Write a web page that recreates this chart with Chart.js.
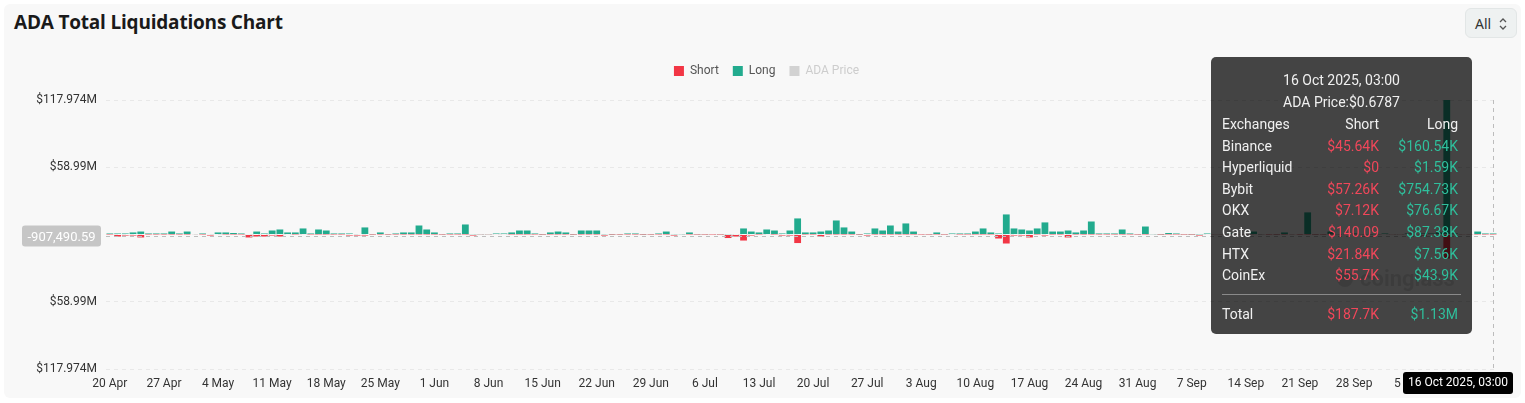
<!DOCTYPE html>
<html>
<head>
<meta charset="utf-8">
<script src="https://cdn.jsdelivr.net/npm/chart.js@4.4.1/dist/chart.umd.min.js"></script>
<style>
    html, body { margin: 0; padding: 0; background: #ffffff; }
    #wrap { position: relative; width: 1525px; height: 403px; overflow: hidden; }
    #card { position: absolute; left: 4px; top: 4px; width: 1517px; height: 394px; background: #f8f8f8; border-radius: 6px; }
    #title { position: absolute; left: 14px; top: 9px; font: 700 19px "Open Sans", sans-serif; color: #1a1a1a; letter-spacing: -0.2px; }
    #rangeBtn { position: absolute; left: 1465px; top: 8px; width: 52px; height: 30px; box-sizing: border-box; background: #eef1f1; border: 1px solid #e2e6e6; border-radius: 6px; font: 14px "Noto Sans", sans-serif; color: #333; }
    #rangeBtn span { position: absolute; left: 9px; top: 5px; }
    #rangeBtn svg { position: absolute; left: 32px; top: 8px; }
    #chartCanvas { position: absolute; left: 0; top: 0; }
</style>
</head>
<body>
<div id="wrap">
    <div id="card"></div>
    <div id="title">ADA Total Liquidations Chart</div>
    <div id="rangeBtn"><span>All</span>
        <svg width="10" height="14" viewBox="0 0 10 14"><path d="M2 5 L5 2 L8 5" fill="none" stroke="#555" stroke-width="1.3"/><path d="M2 9 L5 12 L8 9" fill="none" stroke="#555" stroke-width="1.3"/></svg>
    </div>
    <canvas id="chartCanvas" width="1525" height="403"></canvas>
</div>
<script>
// daily liquidations, in millions of USD, 20 Apr 2025 .. 16 Oct 2025
const startDay = new Date(2025, 3, 20);
const monthNames = ["Jan", "Feb", "Mar", "Apr", "May", "Jun", "Jul", "Aug", "Sep", "Oct", "Nov", "Dec"];

const longValues = [
    0.9, 0.9, 0.9, 1.8, 2.6, 0.9, 0.9, 0.9, 2.6, 0.9,
    2.6, 0.4, 0.9, 0.4, 1.8, 1.8, 1.3, 0.9, 0.4, 2.6,
    0.9, 3.5, 4.4, 1.8, 1.8, 5.3, 0.9, 4.4, 3.5, 0.9,
    0.9, 0.9, 0.4, 6.2, 0.3, 1.8, 0.3, 0.9, 1.8, 1.8,
    7.9, 4.4, 1.8, 0.3, 0.9, 0.9, 8.8, 0.3, 0.3, 0.3,
    0.9, 0.9, 1.8, 3.5, 3.5, 0.9, 0.2, 1.8, 2.6, 1.8,
    0.2, 3.5, 3.5, 3.5, 0.3, 0.2, 0.3, 0.9, 0.9, 0.2,
    0.3, 0.9, 2.6, 0.3, 0.3, 1.8, 0.3, 0.3, 0.4, 0.3,
    0.3, 0.4, 5.3, 2.6, 1.8, 4.4, 3.5, 0.9, 3.5, 14.1,
    1.8, 1.8, 2.6, 3.5, 12.3, 6.2, 2.6, 0.2, 0.9, 5.3,
    3.5, 7.9, 2.6, 9.7, 2.6, 0.4, 0.3, 1.8, 0.3, 0.9,
    0.9, 0.9, 2.6, 5.3, 1.8, 0.9, 17.6, 5.3, 4.4, 3.5,
    5.3, 10.6, 2.6, 2.6, 3.5, 1.8, 3.5, 11.4, 0.9, 0.9,
    0.9, 4.4, 0.9, 0.3, 7.0, 0.3, 0.2, 1.3, 0.9, 0.3,
    0.2, 0.2, 0.9, 0.4, 0.4, 0.9, 0.4, 0.4, 2.6, 0.3,
    0.4, 0.3, 1.8, 0.4, 0.4, 19.4, 0.3, 0.4, 2.6, 0.4,
    0.4, 0.9, 0.4, 0.3, 0.4, 0.9, 0.4, 0.4, 0.9, 0.4,
    0.9, 0.9, 1.8, 117.974, 0.9, 0.4, 0.4, 2.6, 0.9, 0.9
];

const shortValues = [
    0.1, 1.8, 0.9, 0.9, 2.6, 0.1, 0.1, 0.1, 0.1, 0.1,
    0.1, 0.4, 0.1, 0.9, 0.4, 0.1, 0.1, 0.1, 2.6, 1.8,
    1.8, 0.9, 1.8, 0.4, 0.1, 0.4, 0.1, 0.1, 0.1, 0.1,
    0.1, 0.9, 0.9, 0.9, 0.1, 0.1, 0.1, 0.1, 0.1, 0.1,
    0.1, 0.1, 0.1, 0.1, 0.1, 0.1, 0.1, 0.9, 0.3, 0.3,
    0.4, 0.4, 0.1, 0.1, 0.1, 0.1, 0.1, 0.1, 0.1, 0.1,
    0.1, 0.1, 0.1, 0.1, 0.9, 0.1, 0.1, 0.1, 0.1, 0.1,
    0.1, 0.1, 0.1, 0.9, 0.4, 0.1, 0.1, 0.1, 0.1, 0.1,
    3.1, 1.8, 5.3, 0.9, 0.1, 0.4, 0.1, 0.9, 0.9, 7.5,
    0.1, 0.1, 1.8, 0.1, 0.1, 0.1, 0.1, 0.1, 0.9, 0.1,
    0.1, 0.1, 0.1, 0.1, 0.1, 0.1, 0.1, 0.1, 0.1, 0.4,
    0.1, 0.1, 0.1, 0.1, 0.1, 3.5, 7.9, 0.9, 0.9, 2.6,
    0.1, 0.9, 0.1, 0.1, 2.6, 0.1, 0.1, 0.1, 0.1, 0.1,
    0.1, 0.1, 0.1, 0.1, 0.1, 0.4, 0.1, 0.1, 0.1, 0.1,
    0.1, 0.9, 0.4, 0.3, 0.3, 0.3, 0.3, 0.3, 0.3, 0.3,
    0.1, 0.1, 0.1, 0.3, 0.1, 0.1, 0.1, 0.1, 0.1, 0.3,
    0.3, 0.3, 0.3, 0.3, 0.3, 0.4, 0.3, 0.3, 0.4, 0.4,
    0.9, 0.4, 0.4, 21.1, 0.4, 0.3, 0.3, 0.1, 0.1, 0.1
];

const yTickValues = [117.974, 58.987, 0, -58.987, -117.974];
const yTickLabels = ["$117.974M", "$58.99M", "$0", "$58.99M", "$117.974M"];

// hovered point shown in the reference
const hoverIndex = 179;
const hoverValue = -0.90749059;
const hoverYLabel = "-907,490.59";
const tipTitle = "16 Oct 2025, 03:00";
const tipPrice = "ADA Price:$0.6787";
const exchanges = ["Binance", "Hyperliquid", "Bybit", "OKX", "Gate", "HTX", "CoinEx"];
const exShort = ["$45.64K", "$0", "$57.26K", "$7.12K", "$140.09", "$21.84K", "$55.7K"];
const exLong = ["$160.54K", "$1.59K", "$754.73K", "$76.67K", "$87.38K", "$7.56K", "$43.9K"];
const totalShort = "$187.7K";
const totalLong = "$1.13M";

const RED = "#f23645";
const TEAL = "#22ab8e";

const dayLabels = longValues.map(function (_, i) {
    const d = new Date(startDay.getTime());
    d.setDate(d.getDate() + i);
    return d.getDate() + " " + monthNames[d.getMonth()];
});

function roundRect(ctx, x, y, w, h, r) {
    ctx.beginPath();
    ctx.moveTo(x + r, y);
    ctx.arcTo(x + w, y, x + w, y + h, r);
    ctx.arcTo(x + w, y + h, x, y + h, r);
    ctx.arcTo(x, y + h, x, y, r);
    ctx.arcTo(x, y, x + w, y, r);
    ctx.closePath();
}

const legendSpace = {
    id: "legendSpace",
    beforeInit(chart) {
        const fit = chart.legend.fit;
        chart.legend.fit = function () {
            fit.call(this);
            this.height += 13;
        };
    }
};

const hoverOverlay = {
    id: "hoverOverlay",
    afterDraw(chart) {
        const ctx = chart.ctx;
        const area = chart.chartArea;
        const cx = Math.round(chart.scales.x.getPixelForValue(hoverIndex)) + 0.5;
        const cy = Math.round(chart.scales.y.getPixelForValue(hoverValue)) + 0.5;

        ctx.save();
        // crosshair
        ctx.setLineDash([4, 4]);
        ctx.strokeStyle = "#bdbdbd";
        ctx.lineWidth = 1;
        ctx.beginPath();
        ctx.moveTo(area.left, cy);
        ctx.lineTo(area.right, cy);
        ctx.moveTo(cx, area.top);
        ctx.lineTo(cx, area.bottom);
        ctx.stroke();
        ctx.setLineDash([]);

        // watermark
        ctx.fillStyle = "rgba(0,0,0,0.12)";
        ctx.beginPath();
        ctx.arc(1345, 279, 8, 0, Math.PI * 2);
        ctx.fill();
        ctx.font = "700 22px Roboto";
        ctx.textBaseline = "middle";
        ctx.textAlign = "left";
        ctx.fillText("coinglass", 1360, 280);

        // tooltip
        const tx = 1211, ty = 57, tw = 261, th = 277;
        ctx.globalCompositeOperation = "multiply";
        ctx.fillStyle = "rgb(68,68,68)";
        roundRect(ctx, tx, ty, tw, th, 5);
        ctx.fill();
        ctx.globalCompositeOperation = "source-over";

        ctx.font = "14px Roboto";
        ctx.fillStyle = "#f0f0f0";
        ctx.textAlign = "center";
        ctx.fillText(tipTitle, tx + tw / 2, 81);
        ctx.fillText(tipPrice, tx + tw / 2, 103);

        const nameX = 1222, shortX = 1379, longX = 1458;
        const rows = [["Exchanges", "Short", "Long", true]];
        exchanges.forEach(function (name, i) {
            rows.push([name, exShort[i], exLong[i], false]);
        });
        const rowY = [125, 147, 168, 190, 211, 233, 255, 276];
        rows.forEach(function (r, i) {
            ctx.textAlign = "left";
            ctx.fillStyle = "#f0f0f0";
            ctx.fillText(r[0], nameX, rowY[i]);
            ctx.textAlign = "right";
            ctx.fillStyle = r[3] ? "#f0f0f0" : "#f0475a";
            ctx.fillText(r[1], shortX, rowY[i]);
            ctx.fillStyle = r[3] ? "#f0f0f0" : "#2fbf9c";
            ctx.fillText(r[2], longX, rowY[i]);
        });

        ctx.strokeStyle = "#8a8a8a";
        ctx.beginPath();
        ctx.moveTo(1222, 294.5);
        ctx.lineTo(1461, 294.5);
        ctx.stroke();

        ctx.textAlign = "left";
        ctx.fillStyle = "#f0f0f0";
        ctx.fillText("Total", nameX, 315);
        ctx.textAlign = "right";
        ctx.fillStyle = "#f0475a";
        ctx.fillText(totalShort, shortX, 315);
        ctx.fillStyle = "#2fbf9c";
        ctx.fillText(totalLong, longX, 315);

        // axis pointer labels
        ctx.font = "13px Roboto";
        ctx.textAlign = "center";
        ctx.fillStyle = "#c6c6c6";
        roundRect(ctx, 22, cy - 11, 79, 21, 3);
        ctx.fill();
        ctx.fillStyle = "#ffffff";
        ctx.fillText(hoverYLabel, 61.5, cy + 1);

        ctx.font = "12px Roboto";
        ctx.fillStyle = "#000000";
        roundRect(ctx, 1403, 372, 110, 22, 3);
        ctx.fill();
        ctx.fillStyle = "#ffffff";
        ctx.fillText(tipTitle, 1458, 383);
        ctx.restore();
    }
};

const ctx = document.getElementById("chartCanvas").getContext("2d");

new Chart(ctx, {
    type: "bar",
    data: {
        labels: dayLabels,
        datasets: [{
            label: "Short",
            data: shortValues.map(v => -v),
            backgroundColor: RED,
            barPercentage: 0.88,
            categoryPercentage: 1
        }, {
            label: "Long",
            data: longValues,
            backgroundColor: TEAL,
            barPercentage: 0.88,
            categoryPercentage: 1
        }, {
            type: "line",
            label: "ADA Price",
            data: [],
            hidden: true,
            backgroundColor: "#cccccc",
            borderColor: "#cccccc"
        }]
    },
    options: {
        responsive: false,
        animation: false,
        layout: {
            padding: { left: 36, right: 28, top: 51, bottom: 0 }
        },
        plugins: {
            legend: {
                display: true,
                position: "top",
                labels: {
                    boxWidth: 10,
                    boxHeight: 10,
                    padding: 14,
                    font: { family: "Roboto", size: 12 },
                    generateLabels: function (chart) {
                        return chart.data.datasets.map(function (d, i) {
                            const off = i === 2;
                            return {
                                text: d.label,
                                fillStyle: off ? "#d2d2d2" : d.backgroundColor,
                                strokeStyle: off ? "#d2d2d2" : d.backgroundColor,
                                lineWidth: 0,
                                hidden: false,
                                fontColor: off ? "#cdcdcd" : "#555555",
                                datasetIndex: i
                            };
                        });
                    }
                }
            },
            tooltip: { enabled: false }
        },
        scales: {
            x: {
                stacked: true,
                grid: { display: false },
                border: { display: false },
                afterFit: function (scale) { scale.height = 34; },
                ticks: {
                    autoSkip: false,
                    maxRotation: 0,
                    padding: 0,
                    color: "#333333",
                    font: { family: "Roboto", size: 12 },
                    callback: function (value, index) {
                        return index % 7 === 0 ? this.getLabelForValue(value) : null;
                    }
                }
            },
            y: {
                stacked: true,
                min: -117.974,
                max: 117.974,
                afterFit: function (scale) { scale.width = 70; },
                afterBuildTicks: function (scale) {
                    scale.ticks = yTickValues.map(v => ({ value: v }));
                },
                grid: { color: "#e8e8e8", drawTicks: false },
                border: { display: false, dash: [4, 4] },
                ticks: {
                    padding: 9,
                    color: "#333333",
                    font: { family: "Roboto", size: 12 },
                    callback: function (value, index) {
                        return yTickLabels[index];
                    }
                }
            }
        }
    },
    plugins: [legendSpace, hoverOverlay]
});
</script>
</body>
</html>
